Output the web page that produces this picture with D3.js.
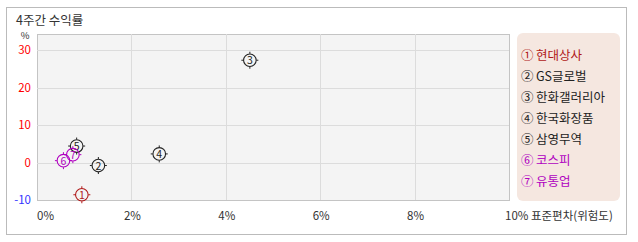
<!DOCTYPE html>
<html>
<head>
<meta charset="utf-8">
<script src="https://cdn.jsdelivr.net/npm/d3@7"></script>
<style>
  body { margin: 0; background: #fff; }
  svg text { font-family: "Noto Sans CJK KR", "Noto Sans", sans-serif; }
</style>
</head>
<body>
<svg id="chart"></svg>
<script>
const names = ["현대상사", "GS글로벌", "한화갤러리아", "한국화장품", "삼영무역", "코스피", "유통업"];
const marks = ["①", "②", "③", "④", "⑤", "⑥", "⑦"];
const risk = [0.95, 1.30, 4.51, 2.59, 0.84, 0.56, 0.76];     // 표준편차 %
const returns = [-8.6, -0.8, 27.3, 2.3, 4.4, 0.5, 2.1];      // 4주간 수익률 %
const colors = ["#b01818", "#222", "#222", "#222", "#222", "#b000c0", "#b000c0"];
const xTicks = [0, 2, 4, 6, 8, 10];
const yTicks = [-10, 0, 10, 20, 30];

const width = 638, height = 242;
const svg = d3.select("#chart").attr("width", width).attr("height", height);

// outer frame
svg.append("rect")
    .attr("x", 6.5).attr("y", 7.5)
    .attr("width", 620).attr("height", 227)
    .attr("fill", "#fff").attr("stroke", "#bbb");

svg.append("text")
    .attr("x", 16).attr("y", 25)
    .attr("font-size", 12.5)
    .attr("fill", "#333")
    .text("4주간 수익률");

const plot = { left: 37, right: 509, top: 34, bottom: 200 };

const x = d3.scaleLinear().domain([0, 10]).range([plot.left, plot.right]);
const y = d3.scaleLinear().domain([-10, 34.3]).range([plot.bottom, plot.top]);

svg.append("rect")
    .attr("x", plot.left + 0.5).attr("y", plot.top + 0.5)
    .attr("width", plot.right - plot.left).attr("height", plot.bottom - plot.top)
    .attr("fill", "#f4f4f4").attr("stroke", "#c4c4c4");

// grid
svg.selectAll(".vgrid")
    .data(xTicks.filter(d => d > 0 && d < 10))
    .enter().append("line")
    .attr("x1", d => Math.round(x(d)) + 0.5).attr("x2", d => Math.round(x(d)) + 0.5)
    .attr("y1", plot.top).attr("y2", plot.bottom)
    .attr("stroke", "#dcdcdc");

svg.selectAll(".hgrid")
    .data(yTicks.filter(d => d > -10))
    .enter().append("line")
    .attr("x1", plot.left).attr("x2", plot.right)
    .attr("y1", d => Math.round(y(d)) + 0.5).attr("y2", d => Math.round(y(d)) + 0.5)
    .attr("stroke", "#dcdcdc");

// y axis labels
svg.selectAll(".ylab")
    .data(yTicks)
    .enter().append("text")
    .attr("x", 31)
    .attr("y", d => y(d) + 4)
    .attr("text-anchor", "end")
    .attr("font-size", 11.5)
    .attr("fill", d => d < 0 ? "#3333ff" : "#ff0000")
    .text(d => d);

svg.append("text")
    .attr("x", 25).attr("y", 39)
    .attr("text-anchor", "middle")
    .attr("font-size", 9.5)
    .attr("fill", "#333")
    .text("%");

// x axis labels
svg.selectAll(".xlab")
    .data(xTicks)
    .enter().append("text")
    .attr("x", d => d === 0 ? x(d) : d === 10 ? x(d) - 4 : x(d) + 1)
    .attr("y", 220)
    .attr("text-anchor", d => d === 0 || d === 10 ? "start" : "middle")
    .attr("font-size", 11.5)
    .attr("fill", "#333")
    .text(d => d === 10 ? d + "% 표준편차(위험도)" : d + "%");

// legend
svg.append("rect")
    .attr("x", 517).attr("y", 33)
    .attr("width", 103).attr("height", 168)
    .attr("rx", 6)
    .attr("fill", "#f5e7e0");

svg.selectAll(".leg")
    .data(names)
    .enter().append("text")
    .attr("x", 521)
    .attr("y", (d, i) => 60 + i * 21)
    .attr("font-size", 12.5)
    .attr("fill", (d, i) => colors[i])
    .text((d, i) => marks[i] + "\u2009" + d);

// points
const pts = svg.selectAll(".pt")
    .data(names)
    .enter().append("g")
    .attr("transform", (d, i) => `translate(${x(risk[i])},${y(returns[i])})`);

pts.append("circle")
    .attr("r", 6.3)
    .attr("fill", "none")
    .attr("stroke", (d, i) => colors[i])
    .attr("stroke-width", 1.1);

pts.append("path")
    .attr("d", "M0,-8.5V-6.5M0,6.5V8.5M-8.5,0H-6.5M6.5,0H8.5")
    .attr("stroke", (d, i) => colors[i])
    .attr("stroke-width", 1);

pts.append("text")
    .attr("y", 4)
    .attr("text-anchor", "middle")
    .attr("font-size", 10.5)
    .attr("fill", (d, i) => colors[i])
    .text((d, i) => i + 1);
</script>
</body>
</html>
